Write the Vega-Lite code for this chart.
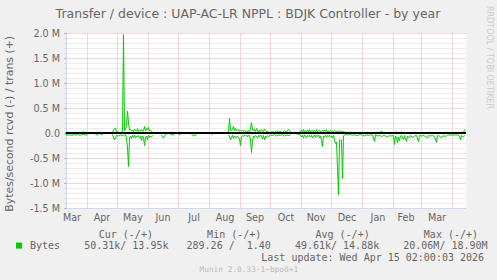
{
"$schema": "https://vega.github.io/schema/vega-lite/v6.json",
"width": 400, "height": 175,
"autosize": {"type": "none"},
"padding": {"left": 66, "top": 33, "right": 31, "bottom": 72},
"background": "#f0f0f0",
"title": {"text": "Transfer / device : UAP-AC-LR NPPL : BDJK Controller - by year", "frame": "group", "anchor": "middle", "dx": -18, "dy": 40.5, "offset": 15.5, "baseline": "alphabetic", "font": "DejaVu Sans", "fontSize": 12.5, "fontWeight": "normal", "color": "#666666"},
"data": {"values": [
{"d":"2025-03-11","t":10000,"r":-35000},
{"d":"2025-03-13","t":8000,"r":-45000},
{"d":"2025-03-15","t":12000,"r":-30000},
{"d":"2025-03-17","t":6000,"r":-50000},
{"d":"2025-03-19","t":10000,"r":-35000},
{"d":"2025-03-21","t":9000,"r":-40000},
{"d":"2025-03-23","t":14000,"r":-30000},
{"d":"2025-03-25","t":7000,"r":-45000},
{"d":"2025-03-27","t":10000,"r":-35000},
{"d":"2025-03-29","t":20000,"r":-25000},
{"d":"2025-03-31","t":8000,"r":-40000},
{"d":"2025-04-02","t":10000,"r":-35000},
{"d":"2025-04-04","t":null,"r":null},
{"d":"2025-04-10","t":10000,"r":-30000},
{"d":"2025-04-12","t":8000,"r":-40000},
{"d":"2025-04-13","t":10000,"r":-30000},
{"d":"2025-04-14","t":null,"r":null},
{"d":"2025-04-15","t":10000,"r":-25000},
{"d":"2025-04-17","t":12000,"r":-35000},
{"d":"2025-04-18","t":null,"r":null},
{"d":"2025-04-27","t":10000,"r":-30000},
{"d":"2025-04-29","t":90000,"r":-140000},
{"d":"2025-04-30","t":100000,"r":-100000},
{"d":"2025-05-01","t":20000,"r":-50000},
{"d":"2025-05-03","t":15000,"r":-60000},
{"d":"2025-05-05","t":10000,"r":-40000},
{"d":"2025-05-07","t":30000,"r":-50000},
{"d":"2025-05-08","t":1970000,"r":-60000},
{"d":"2025-05-09","t":50000,"r":-40000},
{"d":"2025-05-10","t":80000,"r":-30000},
{"d":"2025-05-11","t":150000,"r":-100000},
{"d":"2025-05-12","t":440000,"r":-300000},
{"d":"2025-05-13","t":200000,"r":-670000},
{"d":"2025-05-14","t":60000,"r":-100000},
{"d":"2025-05-15","t":70000,"r":-60000},
{"d":"2025-05-16","t":40000,"r":-110000},
{"d":"2025-05-17","t":60000,"r":-50000},
{"d":"2025-05-18","t":30000,"r":-90000},
{"d":"2025-05-19","t":80000,"r":-40000},
{"d":"2025-05-20","t":50000,"r":-100000},
{"d":"2025-05-21","t":40000,"r":-60000},
{"d":"2025-05-22","t":90000,"r":-80000},
{"d":"2025-05-23","t":30000,"r":-50000},
{"d":"2025-05-24","t":60000,"r":-100000},
{"d":"2025-05-25","t":40000,"r":-70000},
{"d":"2025-05-26","t":70000,"r":-150000},
{"d":"2025-05-27","t":30000,"r":-60000},
{"d":"2025-05-28","t":50000,"r":-90000},
{"d":"2025-05-29","t":130000,"r":-250000},
{"d":"2025-05-30","t":40000,"r":-80000},
{"d":"2025-05-31","t":90000,"r":-60000},
{"d":"2025-06-01","t":60000,"r":-130000},
{"d":"2025-06-02","t":110000,"r":-50000},
{"d":"2025-06-03","t":40000,"r":-90000},
{"d":"2025-06-04","t":60000,"r":-60000},
{"d":"2025-06-05","t":30000,"r":-80000},
{"d":"2025-06-06","t":20000,"r":-50000},
{"d":"2025-06-07","t":null,"r":null},
{"d":"2025-06-15","t":10000,"r":-40000},
{"d":"2025-06-16","t":8000,"r":-80000},
{"d":"2025-06-17","t":10000,"r":-100000},
{"d":"2025-06-18","t":5000,"r":-60000},
{"d":"2025-06-19","t":10000,"r":-30000},
{"d":"2025-06-20","t":8000,"r":-25000},
{"d":"2025-06-21","t":null,"r":null},
{"d":"2025-06-24","t":10000,"r":-30000},
{"d":"2025-06-26","t":12000,"r":-40000},
{"d":"2025-06-28","t":10000,"r":-25000},
{"d":"2025-06-29","t":null,"r":null},
{"d":"2025-07-02","t":10000,"r":-30000},
{"d":"2025-07-04","t":10000,"r":-35000},
{"d":"2025-07-05","t":null,"r":null},
{"d":"2025-07-15","t":10000,"r":-30000},
{"d":"2025-07-17","t":10000,"r":-60000},
{"d":"2025-07-19","t":10000,"r":-40000},
{"d":"2025-07-20","t":10000,"r":-30000},
{"d":"2025-07-21","t":null,"r":null},
{"d":"2025-08-04","t":10000,"r":-30000},
{"d":"2025-08-05","t":10000,"r":-40000},
{"d":"2025-08-06","t":null,"r":null},
{"d":"2025-08-21","t":20000,"r":-40000},
{"d":"2025-08-22","t":290000,"r":-60000},
{"d":"2025-08-23","t":60000,"r":-140000},
{"d":"2025-08-24","t":40000,"r":-90000},
{"d":"2025-08-25","t":80000,"r":-50000},
{"d":"2025-08-26","t":130000,"r":-110000},
{"d":"2025-08-27","t":50000,"r":-60000},
{"d":"2025-08-28","t":90000,"r":-80000},
{"d":"2025-08-29","t":40000,"r":-100000},
{"d":"2025-08-30","t":60000,"r":-60000},
{"d":"2025-08-31","t":70000,"r":-90000},
{"d":"2025-09-01","t":30000,"r":-120000},
{"d":"2025-09-02","t":50000,"r":-250000},
{"d":"2025-09-03","t":40000,"r":-80000},
{"d":"2025-09-04","t":60000,"r":-50000},
{"d":"2025-09-05","t":30000,"r":-70000},
{"d":"2025-09-06","t":50000,"r":-40000},
{"d":"2025-09-07","t":20000,"r":-60000},
{"d":"2025-09-08","t":40000,"r":-50000},
{"d":"2025-09-09","t":30000,"r":-80000},
{"d":"2025-09-10","t":50000,"r":-40000},
{"d":"2025-09-11","t":20000,"r":-60000},
{"d":"2025-09-12","t":80000,"r":-120000},
{"d":"2025-09-13","t":210000,"r":-390000},
{"d":"2025-09-14","t":60000,"r":-150000},
{"d":"2025-09-15","t":40000,"r":-60000},
{"d":"2025-09-16","t":70000,"r":-90000},
{"d":"2025-09-17","t":30000,"r":-50000},
{"d":"2025-09-18","t":90000,"r":-70000},
{"d":"2025-09-19","t":40000,"r":-100000},
{"d":"2025-09-20","t":20000,"r":-50000},
{"d":"2025-09-21","t":60000,"r":-80000},
{"d":"2025-09-22","t":30000,"r":-40000},
{"d":"2025-09-23","t":70000,"r":-60000},
{"d":"2025-09-24","t":40000,"r":-120000},
{"d":"2025-09-25","t":30000,"r":-50000},
{"d":"2025-09-26","t":80000,"r":-140000},
{"d":"2025-09-27","t":50000,"r":-60000},
{"d":"2025-09-28","t":20000,"r":-90000},
{"d":"2025-09-29","t":40000,"r":-50000},
{"d":"2025-09-30","t":20000,"r":-70000},
{"d":"2025-10-02","t":10000,"r":-40000},
{"d":"2025-10-04","t":30000,"r":-50000},
{"d":"2025-10-06","t":10000,"r":-30000},
{"d":"2025-10-08","t":40000,"r":-60000},
{"d":"2025-10-10","t":20000,"r":-40000},
{"d":"2025-10-12","t":30000,"r":-50000},
{"d":"2025-10-14","t":10000,"r":-30000},
{"d":"2025-10-16","t":50000,"r":-60000},
{"d":"2025-10-18","t":20000,"r":-40000},
{"d":"2025-10-20","t":75000,"r":-50000},
{"d":"2025-10-22","t":20000,"r":-40000},
{"d":"2025-10-24","t":null,"r":null},
{"d":"2025-10-28","t":10000,"r":-20000},
{"d":"2025-10-30","t":10000,"r":-25000},
{"d":"2025-11-01","t":30000,"r":-40000},
{"d":"2025-11-02","t":60000,"r":-80000},
{"d":"2025-11-03","t":20000,"r":-50000},
{"d":"2025-11-04","t":70000,"r":-100000},
{"d":"2025-11-05","t":30000,"r":-40000},
{"d":"2025-11-06","t":50000,"r":-60000},
{"d":"2025-11-07","t":20000,"r":-90000},
{"d":"2025-11-08","t":60000,"r":-50000},
{"d":"2025-11-09","t":30000,"r":-70000},
{"d":"2025-11-10","t":70000,"r":-40000},
{"d":"2025-11-11","t":20000,"r":-80000},
{"d":"2025-11-12","t":40000,"r":-50000},
{"d":"2025-11-13","t":60000,"r":-100000},
{"d":"2025-11-14","t":20000,"r":-60000},
{"d":"2025-11-15","t":50000,"r":-40000},
{"d":"2025-11-16","t":30000,"r":-90000},
{"d":"2025-11-17","t":70000,"r":-50000},
{"d":"2025-11-18","t":20000,"r":-70000},
{"d":"2025-11-19","t":40000,"r":-40000},
{"d":"2025-11-20","t":60000,"r":-100000},
{"d":"2025-11-21","t":30000,"r":-60000},
{"d":"2025-11-22","t":40000,"r":-150000},
{"d":"2025-11-23","t":50000,"r":-270000},
{"d":"2025-11-24","t":20000,"r":-60000},
{"d":"2025-11-25","t":60000,"r":-80000},
{"d":"2025-11-26","t":30000,"r":-40000},
{"d":"2025-11-27","t":70000,"r":-90000},
{"d":"2025-11-28","t":20000,"r":-50000},
{"d":"2025-11-29","t":40000,"r":-70000},
{"d":"2025-11-30","t":30000,"r":-40000},
{"d":"2025-12-01","t":50000,"r":-80000},
{"d":"2025-12-02","t":20000,"r":-60000},
{"d":"2025-12-03","t":40000,"r":-100000},
{"d":"2025-12-04","t":30000,"r":-50000},
{"d":"2025-12-05","t":50000,"r":-140000},
{"d":"2025-12-06","t":40000,"r":-210000},
{"d":"2025-12-07","t":30000,"r":-180000},
{"d":"2025-12-08","t":40000,"r":-700000},
{"d":"2025-12-09","t":30000,"r":-1240000},
{"d":"2025-12-10","t":50000,"r":-140000},
{"d":"2025-12-11","t":30000,"r":-140000},
{"d":"2025-12-12","t":40000,"r":-140000},
{"d":"2025-12-13","t":20000,"r":-910000},
{"d":"2025-12-14","t":30000,"r":-60000},
{"d":"2025-12-15","t":20000,"r":-40000},
{"d":"2025-12-17","t":10000,"r":-30000},
{"d":"2025-12-19","t":10000,"r":-40000},
{"d":"2025-12-21","t":15000,"r":-30000},
{"d":"2025-12-23","t":10000,"r":-45000},
{"d":"2025-12-25","t":8000,"r":-35000},
{"d":"2025-12-27","t":12000,"r":-50000},
{"d":"2025-12-29","t":10000,"r":-40000},
{"d":"2025-12-31","t":10000,"r":-30000},
{"d":"2026-01-02","t":8000,"r":-45000},
{"d":"2026-01-04","t":10000,"r":-60000},
{"d":"2026-01-06","t":12000,"r":-40000},
{"d":"2026-01-08","t":10000,"r":-50000},
{"d":"2026-01-10","t":8000,"r":-35000},
{"d":"2026-01-12","t":10000,"r":-45000},
{"d":"2026-01-14","t":12000,"r":-170000},
{"d":"2026-01-15","t":10000,"r":-40000},
{"d":"2026-01-17","t":10000,"r":-60000},
{"d":"2026-01-19","t":15000,"r":-50000},
{"d":"2026-01-21","t":30000,"r":-70000},
{"d":"2026-01-23","t":10000,"r":-50000},
{"d":"2026-01-25","t":12000,"r":-60000},
{"d":"2026-01-27","t":10000,"r":-80000},
{"d":"2026-01-29","t":10000,"r":-50000},
{"d":"2026-01-31","t":12000,"r":-60000},
{"d":"2026-02-02","t":10000,"r":-50000},
{"d":"2026-02-03","t":15000,"r":-230000},
{"d":"2026-02-04","t":10000,"r":-60000},
{"d":"2026-02-05","t":20000,"r":-100000},
{"d":"2026-02-06","t":10000,"r":-200000},
{"d":"2026-02-07","t":10000,"r":-80000},
{"d":"2026-02-08","t":12000,"r":-160000},
{"d":"2026-02-09","t":10000,"r":-60000},
{"d":"2026-02-10","t":20000,"r":-50000},
{"d":"2026-02-12","t":10000,"r":-130000},
{"d":"2026-02-13","t":10000,"r":-50000},
{"d":"2026-02-15","t":12000,"r":-170000},
{"d":"2026-02-16","t":10000,"r":-60000},
{"d":"2026-02-18","t":10000,"r":-100000},
{"d":"2026-02-19","t":10000,"r":-50000},
{"d":"2026-02-21","t":10000,"r":-90000},
{"d":"2026-02-23","t":12000,"r":-60000},
{"d":"2026-02-25","t":10000,"r":-50000},
{"d":"2026-02-27","t":10000,"r":-170000},
{"d":"2026-02-28","t":10000,"r":-50000},
{"d":"2026-03-02","t":10000,"r":-60000},
{"d":"2026-03-04","t":12000,"r":-50000},
{"d":"2026-03-06","t":10000,"r":-70000},
{"d":"2026-03-08","t":10000,"r":-100000},
{"d":"2026-03-09","t":10000,"r":-50000},
{"d":"2026-03-11","t":12000,"r":-60000},
{"d":"2026-03-13","t":10000,"r":-50000},
{"d":"2026-03-15","t":10000,"r":-70000},
{"d":"2026-03-17","t":10000,"r":-190000},
{"d":"2026-03-18","t":10000,"r":-50000},
{"d":"2026-03-20","t":12000,"r":-60000},
{"d":"2026-03-22","t":10000,"r":-100000},
{"d":"2026-03-24","t":10000,"r":-45000},
{"d":"2026-03-26","t":12000,"r":-80000},
{"d":"2026-03-28","t":10000,"r":-40000},
{"d":"2026-03-30","t":10000,"r":-40000},
{"d":"2026-04-01","t":10000,"r":-40000},
{"d":"2026-04-03","t":10000,"r":-40000},
{"d":"2026-04-05","t":12000,"r":-40000},
{"d":"2026-04-07","t":10000,"r":-40000},
{"d":"2026-04-09","t":10000,"r":-60000},
{"d":"2026-04-10","t":10000,"r":-140000},
{"d":"2026-04-11","t":15000,"r":-50000},
{"d":"2026-04-13","t":10000,"r":-80000},
{"d":"2026-04-14","t":70000,"r":-50000}
]},
"layer": [
{"mark": {"type": "line", "strokeWidth": 1, "invalid": "break-paths-show-domains"},
 "encoding": {
  "x": {"field": "d", "type": "temporal",
   "scale": {"type": "utc", "nice": false, "domain": [{"year": 2025, "month": 3, "date": 11, "hours": 12, "utc": true}, {"year": 2026, "month": 4, "date": 15, "hours": 12, "utc": true}]},
   "axis": {"orient": "bottom", "tickCount": {"interval": "month", "step": 1},
    "labelExpr": "utcFormat(datum.value - 1296000000, '%b')",
    "labelOffset": -15, "labelFlush": false, "labelBound": false, "labelOverlap": false,
    "labelFont": "DejaVu Sans", "labelFontSize": 9.6, "labelColor": "#666666", "labelPadding": 4,
    "ticks": false, "grid": true, "gridColor": "#eaa8a8", "gridDash": [1, 1], "gridWidth": 1,
    "domain": true, "domainColor": "#CFD6F8", "domainWidth": 1,
    "title": ["\u200b\u00a0\u00a0\u00a0\u00a0\u00a0\u00a0\u00a0\u00a0\u00a0\u00a0\u00a0\u00a0Cur\u00a0(-/+)\u00a0\u00a0\u00a0\u00a0\u00a0\u00a0\u00a0\u00a0\u00a0Min\u00a0(-/+)\u00a0\u00a0\u00a0\u00a0\u00a0\u00a0\u00a0\u00a0\u00a0Avg\u00a0(-/+)\u00a0\u00a0\u00a0\u00a0\u00a0\u00a0\u00a0\u00a0\u00a0Max\u00a0(-/+)",
     "\u200b\u00a0",
     "\u200b\u00a0\u00a0\u00a0\u00a0\u00a0\u00a0\u00a0\u00a0\u00a0\u00a0\u00a0\u00a0\u00a0\u00a0\u00a0\u00a0\u00a0\u00a0\u00a0\u00a0\u00a0\u00a0\u00a0\u00a0\u00a0\u00a0\u00a0\u00a0\u00a0\u00a0\u00a0\u00a0\u00a0\u00a0\u00a0\u00a0\u00a0\u00a0\u00a0Last\u00a0update:\u00a0Wed\u00a0Apr\u00a015\u00a002:00:03\u00a02026"],
    "titleFont": "DejaVu Sans Mono", "titleFontSize": 10, "titleFontWeight": "normal", "titleColor": "#666666",
    "titleX": -40, "titleY": 29.6, "titleAlign": "left", "titleAnchor": "start", "titleBaseline": "alphabetic", "titleLineHeight": 11.7}},
  "y": {"field": "t", "type": "quantitative",
   "scale": {"domain": [-1500000, 2000000], "nice": false, "zero": false},
   "axis": {"orient": "left",
    "values": [-1500000,-1400000,-1300000,-1200000,-1100000,-1000000,-900000,-800000,-700000,-600000,-500000,-400000,-300000,-200000,-100000,0,100000,200000,300000,400000,500000,600000,700000,800000,900000,1000000,1100000,1200000,1300000,1400000,1500000,1600000,1700000,1800000,1900000,2000000],
    "labelExpr": "datum.value % 500000 !== 0 ? '' : (datum.value === 0 ? '0.0' : (datum.value < 0 ? '-' : '') + format(abs(datum.value) / 1000000, '.1f') + ' M')",
    "labelFont": "DejaVu Sans", "labelFontSize": 9.6, "labelColor": "#666666", "labelPadding": 4.5,
    "labelOverlap": false, "labelBound": false, "labelFlush": false,
    "ticks": true, "tickSize": 2,
    "tickColor": {"condition": {"test": "datum.value % 500000 === 0", "value": "#999999"}, "value": "#d0d0d0"},
    "grid": true,
    "gridColor": {"condition": {"test": "datum.value % 500000 === 0", "value": "#eaa8a8"}, "value": "#d8d8d8"},
    "gridDash": [1, 1], "gridWidth": 1,
    "domain": true, "domainColor": "#CFD6F8", "domainWidth": 1,
    "title": "Bytes/second rcvd (-) / trans (+)", "titleFont": "DejaVu Sans", "titleFontSize": 10.9, "titleFontWeight": "normal", "titleColor": "#666666",
    "titleX": -57, "titleY": 90.3, "titleAngle": -90, "titleAlign": "center", "titleBaseline": "middle"}},
  "color": {"datum": "Bytes", "type": "nominal", "scale": {"domain": ["Bytes"], "range": ["#00cc00"]},
   "legend": {"orient": "none", "legendX": -52, "legendY": 207.6, "title": null, "padding": 0,
    "symbolType": "square", "symbolSize": 36, "symbolStrokeWidth": 0,
    "labelExpr": "datum.label + '\u00a0\u00a0\u00a0\u00a050.31k/\u00a013.95k\u00a0\u00a0\u00a0289.26\u00a0/\u00a0\u00a01.40\u00a0\u00a0\u00a0\u00a049.61k/\u00a014.88k\u00a0\u00a0\u00a0\u00a020.06M/\u00a018.90M'",
    "labelLimit": 0,
    "labelFont": "DejaVu Sans Mono", "labelFontSize": 10, "labelColor": "#666666", "labelOffset": 6,
    "encode": {"symbols": {"update": {"fill": {"value": "#00cc00"}, "stroke": {"value": "#00cc00"}, "strokeWidth": {"value": 0}, "shape": {"value": "square"}}}}}}
 }},
{"mark": {"type": "line", "strokeWidth": 1, "invalid": "break-paths-show-domains"},
 "encoding": {
  "x": {"field": "d", "type": "temporal",
   "axis": {"orient": "top", "grid": false, "ticks": false, "labels": false, "domain": false,
    "title": "Munin 2.0.33-1~bpo8+1", "titleFont": "DejaVu Sans Mono", "titleFontSize": 7.8, "titleFontWeight": "normal", "titleColor": "#bbbbbb",
    "titleX": 182.3, "titleY": 236, "titleAlign": "center", "titleBaseline": "middle"}},
  "y": {"field": "r", "type": "quantitative",
   "axis": {"orient": "right", "grid": false, "ticks": false, "labels": false, "domain": false,
    "title": "RRDTOOL / TOBI OETIKER", "titleFont": "DejaVu Sans", "titleFontSize": 8, "titleFontWeight": "normal", "titleColor": "#cccccc",
    "titleAngle": 90, "titleX": 22.5, "titleY": 24, "titleAlign": "center", "titleBaseline": "middle"}},
  "color": {"datum": "Bytes", "type": "nominal"}
 }},
{"mark": {"type": "rule", "color": "#000000", "strokeWidth": 1},
 "encoding": {"y": {"datum": 0, "type": "quantitative", "axis": null}}}
],
"resolve": {"axis": {"x": "independent", "y": "independent"}},
"config": {"view": {"fill": "#ffffff", "stroke": null}, "font": "DejaVu Sans"}
}
